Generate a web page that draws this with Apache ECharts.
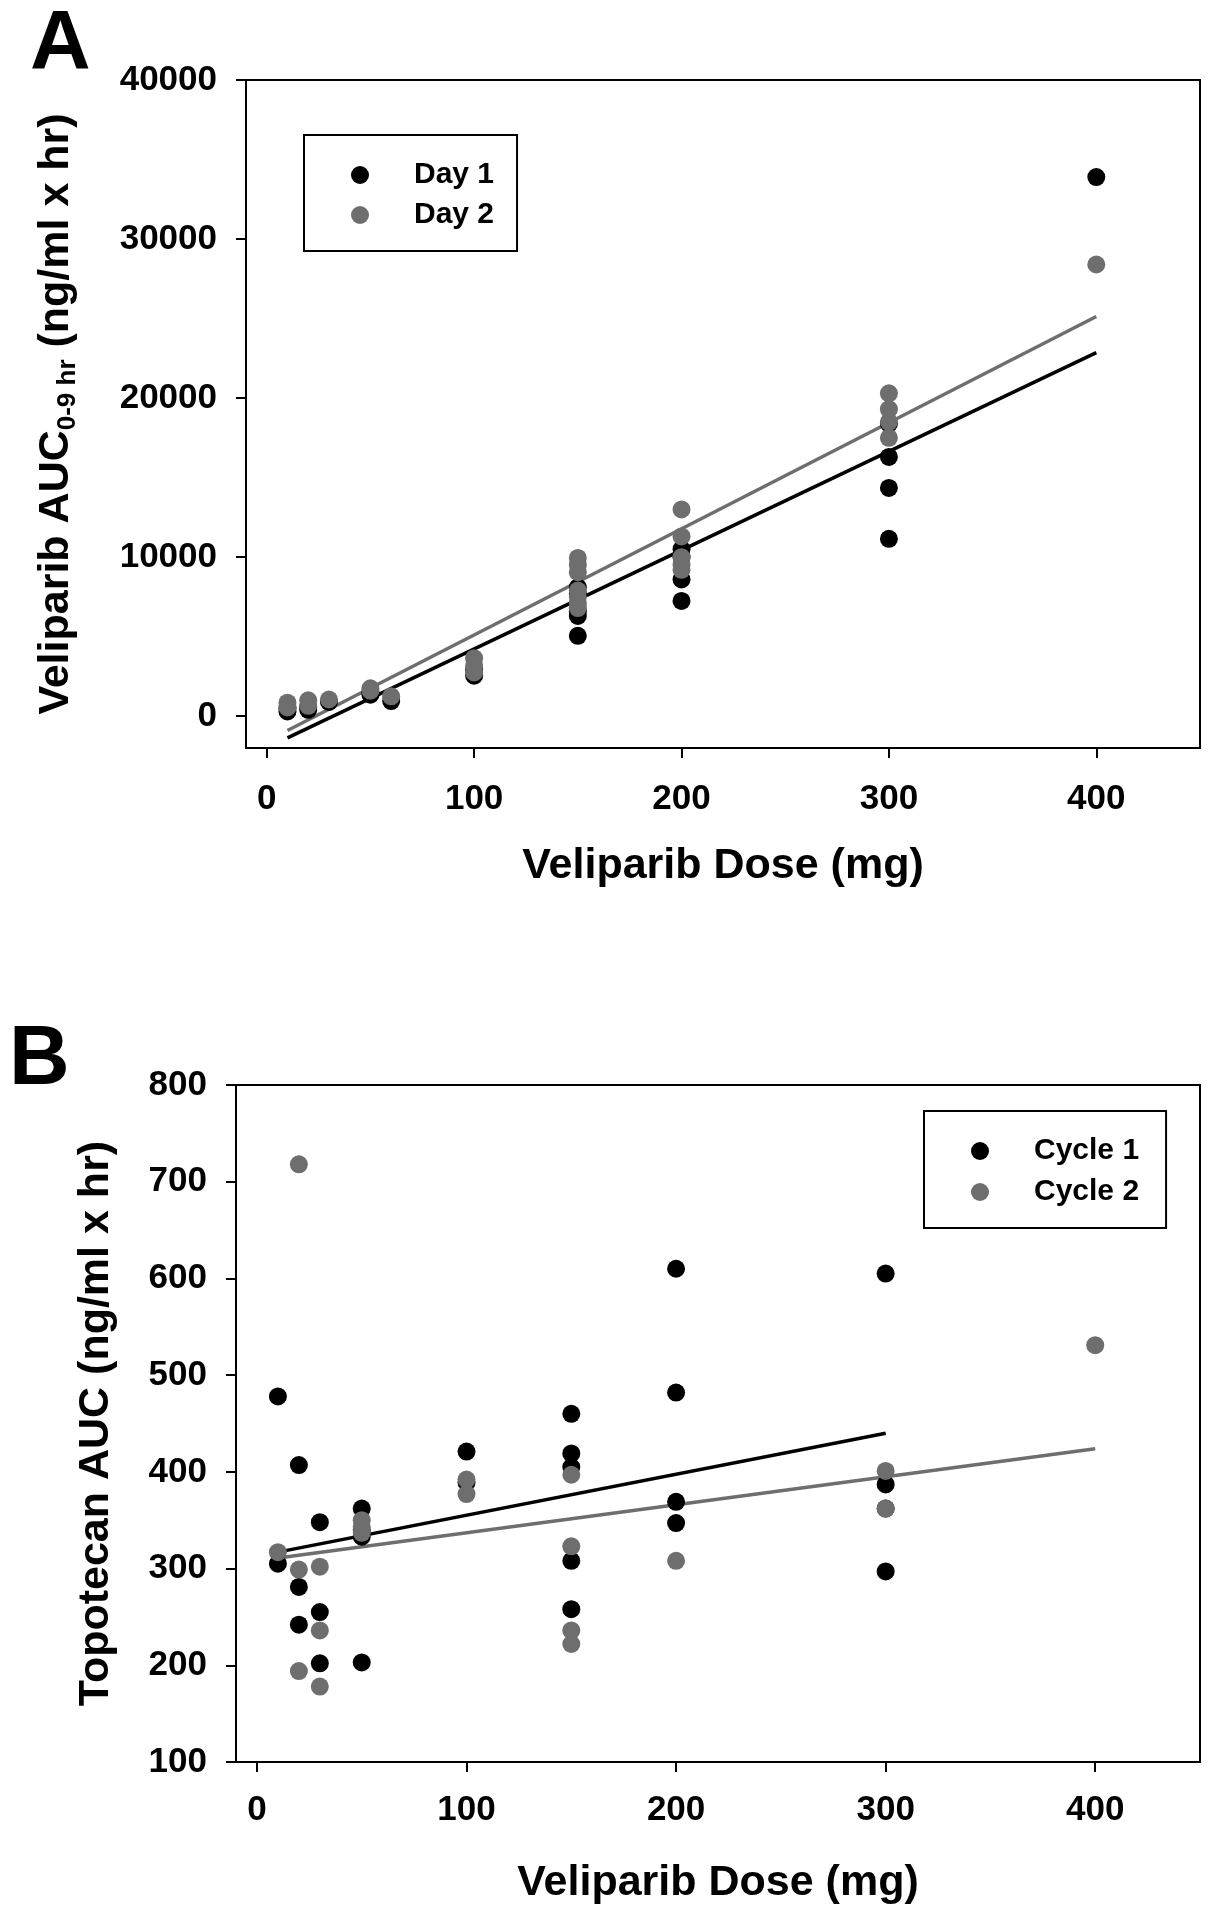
<!DOCTYPE html>
<html>
<head>
<meta charset="utf-8">
<script src="https://cdn.jsdelivr.net/npm/echarts@6/dist/echarts.min.js"></script>
<style>
html,body{margin:0;padding:0;background:#fff;}
#chart{width:1227px;height:1920px;}
</style>
</head>
<body>
<div id="chart"></div>
<script>
// ---------- Panel A data: Veliparib AUC (0-9 hr) vs dose ----------
const day1 = [
  [10,300],[10,500],[20,400],[20,600],[30,900],[50,1350],[50,1500],[60,950],
  [100,2550],[100,2900],
  [150,8100],[150,7700],[150,6600],[150,6300],[150,5050],
  [200,10500],[200,10000],[200,8600],[200,7250],
  [300,18400],[300,16300],[300,14350],[300,11150],
  [400,33900]
];
const day2 = [
  [10,550],[10,850],[20,650],[20,1000],[30,1050],[50,1600],[50,1750],[60,1250],
  [100,2750],[100,3150],[100,3650],
  [150,9950],[150,9500],[150,9050],[150,7900],[150,7500],[150,7100],[150,6800],
  [200,13000],[200,11300],[200,10000],[200,9500],[200,9200],
  [300,20300],[300,19300],[300,18500],[300,17500],
  [400,28400]
];
const fitDay1 = [[10,-1360],[400,22860]];
const fitDay2 = [[10,-900],[400,25130]];

// ---------- Panel B data: Topotecan AUC vs veliparib dose ----------
const cycle1 = [
  [10,478],[10,305],
  [20,407],[20,281],[20,242],
  [30,348],[30,255],[30,202],
  [50,362],[50,340],[50,333],[50,203],
  [100,421],[100,389],
  [150,460],[150,419],[150,405],[150,308],[150,258],
  [200,610],[200,482],[200,369],[200,347],
  [300,605],[300,387],[300,362],[300,297]
];
const cycle2 = [
  [10,317],
  [20,718],[20,299],[20,194],
  [30,302],[30,236],[30,178],
  [50,350],[50,343],[50,337],
  [100,392],[100,377],
  [150,397],[150,323],[150,236],[150,222],
  [200,308],
  [300,401],[300,362],
  [400,531]
];
const fitCycle1 = [[10,317],[300,440]];
const fitCycle2 = [[10,311],[400,424]];

// ---------- Tick labels ----------
const xTicks = [0,100,200,300,400];
const yTicksA = [0,10000,20000,30000,40000];
const yTicksB = [100,200,300,400,500,600,700,800];

const FONT = "'Liberation Sans', Arial, sans-serif";
const BLACK = '#000000';
const GRAY = '#6e6e6e';
const plain = function (v) { return String(v); };

function xAxisDef(gridIndex, gap) {
  return {
    type: 'value', gridIndex: gridIndex, min: -10, max: 450,
    axisLine: {show: false, onZero: false},
    axisTick: {show: true, customValues: xTicks, length: 10, inside: false,
               lineStyle: {color: '#000', width: 2}},
    axisLabel: {customValues: xTicks, formatter: plain, margin: gridIndex === 0 ? 34 : 31,
                fontFamily: FONT, fontWeight: 'bold', fontSize: 35, color: '#000'},
    splitLine: {show: false},
    name: 'Veliparib Dose (mg)', nameLocation: 'middle', nameGap: gap,
    nameMoveOverlap: false,
    nameTextStyle: {fontFamily: FONT, fontWeight: 'bold', fontSize: 43,
                    lineHeight: 43, color: '#000'}
  };
}

const option = {
  backgroundColor: '#ffffff',
  animation: false,
  grid: [
    {left: 246, top: 80, width: 954, height: 668, show: true,
     borderColor: '#000', borderWidth: 2, backgroundColor: 'transparent'},
    {left: 236, top: 1085, width: 964, height: 677, show: true,
     borderColor: '#000', borderWidth: 2, backgroundColor: 'transparent'}
  ],
  xAxis: [xAxisDef(0, 97), xAxisDef(1, 100)],
  yAxis: [
    {
      type: 'value', gridIndex: 0, min: -2000, max: 40000,
      axisLine: {show: false, onZero: false},
      axisTick: {show: true, customValues: yTicksA, length: 10,
                 lineStyle: {color: '#000', width: 2}},
      axisLabel: {customValues: yTicksA, formatter: plain, margin: 29, fontFamily: FONT,
                  fontWeight: 'bold', fontSize: 35, color: '#000'},
      splitLine: {show: false},
      name: '{m|Veliparib AUC}{s|0-9 hr}{m| (ng/ml x hr)}',
      nameLocation: 'middle', nameGap: 165, nameRotate: 90,
      nameMoveOverlap: false,
      nameTextStyle: {
        color: '#000',
        rich: {
          m: {fontFamily: FONT, fontWeight: 'bold', fontSize: 43, lineHeight: 50, color: '#000'},
          s: {fontFamily: FONT, fontWeight: 'bold', fontSize: 26, lineHeight: 26,
              verticalAlign: 'bottom', color: '#000'}
        }
      }
    },
    {
      type: 'value', gridIndex: 1, min: 100, max: 800, interval: 100,
      axisLine: {show: false, onZero: false},
      axisTick: {show: true, customValues: yTicksB, length: 10,
                 lineStyle: {color: '#000', width: 2}},
      axisLabel: {customValues: yTicksB, formatter: plain, margin: 29, fontFamily: FONT,
                  fontWeight: 'bold', fontSize: 35, color: '#000'},
      splitLine: {show: false},
      name: 'Topotecan AUC (ng/ml x hr)',
      nameLocation: 'middle', nameGap: 118, nameRotate: 90,
      nameMoveOverlap: false,
      nameTextStyle: {fontFamily: FONT, fontWeight: 'bold', fontSize: 43,
                      lineHeight: 43, color: '#000'}
    }
  ],
  legend: [
    {
      data: ['Day 1', 'Day 2'], orient: 'vertical', left: 304, top: 135,
      padding: [25, 23, 21, 47], itemGap: 10, itemWidth: 18, itemHeight: 18,
      borderColor: '#000', borderWidth: 2, backgroundColor: '#fff',
      selectedMode: false,
      textStyle: {fontFamily: FONT, fontWeight: 'bold', fontSize: 30, color: '#000',
                  padding: [0, 0, 0, 40]}
    },
    {
      data: ['Cycle 1', 'Cycle 2'], orient: 'vertical', left: 924, top: 1111,
      padding: [25, 27, 21, 47], itemGap: 11, itemWidth: 18, itemHeight: 18,
      borderColor: '#000', borderWidth: 2, backgroundColor: '#fff',
      selectedMode: false,
      textStyle: {fontFamily: FONT, fontWeight: 'bold', fontSize: 30, color: '#000',
                  padding: [0, 0, 0, 40]}
    }
  ],
  graphic: [
    {type: 'text', left: 30, top: 4,
     style: {text: 'A', font: "bold 84px 'Liberation Sans', Arial, sans-serif", fill: '#000'}},
    {type: 'text', left: 9, top: 1019,
     style: {text: 'B', font: "bold 84px 'Liberation Sans', Arial, sans-serif", fill: '#000'}}
  ],
  series: [
    {name: 'fitDay1', type: 'line', xAxisIndex: 0, yAxisIndex: 0, data: fitDay1,
     symbol: 'none', lineStyle: {color: BLACK, width: 3.5}, z: 1, silent: true},
    {name: 'fitDay2', type: 'line', xAxisIndex: 0, yAxisIndex: 0, data: fitDay2,
     symbol: 'none', lineStyle: {color: GRAY, width: 3.5}, z: 1, silent: true},
    {name: 'Day 1', type: 'scatter', xAxisIndex: 0, yAxisIndex: 0, data: day1,
     symbol: 'circle', symbolSize: 18, itemStyle: {color: BLACK, opacity: 1}, z: 2},
    {name: 'Day 2', type: 'scatter', xAxisIndex: 0, yAxisIndex: 0, data: day2,
     symbol: 'circle', symbolSize: 18, itemStyle: {color: GRAY, opacity: 1}, z: 3},

    {name: 'fitCycle1', type: 'line', xAxisIndex: 1, yAxisIndex: 1, data: fitCycle1,
     symbol: 'none', lineStyle: {color: BLACK, width: 3.5}, z: 1, silent: true},
    {name: 'fitCycle2', type: 'line', xAxisIndex: 1, yAxisIndex: 1, data: fitCycle2,
     symbol: 'none', lineStyle: {color: GRAY, width: 3.5}, z: 1, silent: true},
    {name: 'Cycle 1', type: 'scatter', xAxisIndex: 1, yAxisIndex: 1, data: cycle1,
     symbol: 'circle', symbolSize: 18, itemStyle: {color: BLACK, opacity: 1}, z: 2},
    {name: 'Cycle 2', type: 'scatter', xAxisIndex: 1, yAxisIndex: 1, data: cycle2,
     symbol: 'circle', symbolSize: 18, itemStyle: {color: GRAY, opacity: 1}, z: 3}
  ]
};

const chart = echarts.init(document.getElementById('chart'), null, {renderer: 'canvas'});
chart.setOption(option);
</script>
</body>
</html>
